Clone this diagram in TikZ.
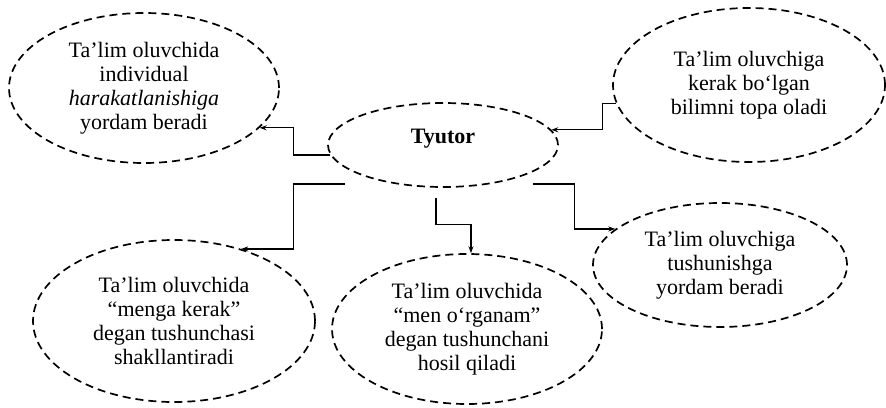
\documentclass[tikz,border=0pt]{standalone}
\usepackage{fontspec}
\setmainfont{Liberation Serif}
\usetikzlibrary{shapes.geometric,arrows.meta}
\begin{document}
\begin{tikzpicture}[x=1pt,y=-1pt,
  bub/.style={ellipse,draw,dash pattern=on 8pt off 5pt,line width=1.7pt,inner sep=0pt,align=center,font=\fontsize{22}{24}\selectfont},
  arr/.style={line width=1.3pt,-{Stealth[length=7pt,width=5pt]}}]
\useasboundingbox (0,0) rectangle (886,407);
\node[bub,minimum width=270pt,minimum height=150pt] (tl) at (144,88)
  {Ta’lim oluvchida\\individual\\\textit{harakatlanishiga}\\yordam beradi};
\node[bub,minimum width=230pt,minimum height=84pt,font=\fontsize{22}{24}\selectfont\bfseries,text height=15pt,text depth=19pt] (tyu) at (443,145) {Tyutor};
\node[bub,minimum width=272pt,minimum height=154pt] (tr) at (749,85)
  {Ta’lim oluvchiga\\kerak bo‘lgan\\bilimni topa oladi};
\node[bub,minimum width=282pt,minimum height=162pt] (bl) at (174,321)
  {Ta’lim oluvchida\\“menga kerak”\\degan tushunchasi\\shakllantiradi};
\node[bub,minimum width=270pt,minimum height=150pt] (bm) at (467,329)
  {Ta’lim oluvchida\\“men o‘rganam”\\degan tushunchani\\hosil qiladi};
\node[bub,minimum width=254pt,minimum height=124pt] (br) at (720,265)
  {Ta’lim oluvchiga\\tushunishga\\yordam beradi};
\coordinate (s3) at (345,184);
\coordinate (s4) at (436,198);
\coordinate (s5) at (533,184);
\draw[arr] (tyu.185) -| ([xshift=34pt]tl.-19) -- (tl.-19);
\draw[arr] (tr.188) -| ([xshift=51pt]tyu.8) -- (tyu.8);
\draw[arr] (s3) -| ([xshift=52pt]bl.47) -- (bl.47);
\draw[arr] (s4) |- ([yshift=29pt]bm.87) -- (bm.87);
\draw[arr] (s5) -| ([xshift=-41pt]br.161) -- (br.161);
\end{tikzpicture}
\end{document}
